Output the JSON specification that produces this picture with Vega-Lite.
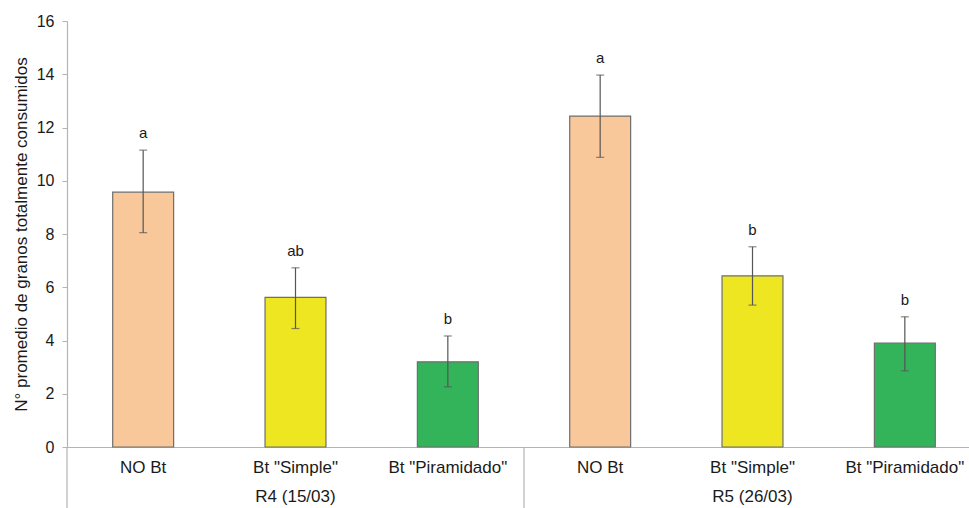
{
  "$schema": "https://vega.github.io/schema/vega-lite/v6.json",
  "autosize": "none",
  "padding": {"left": 67, "top": 21, "right": 0, "bottom": 61},
  "width": 902,
  "height": 426,
  "config": {
    "view": {"stroke": null},
    "font": "Liberation Sans"
  },
  "datasets": {
    "bars": [
      {"key": "R4|NO Bt", "group": "R4 (15/03)", "treatment": "NO Bt", "mean": 9.57, "lo": 8.05, "hi": 11.15, "letter": "a"},
      {"key": "R4|Bt \"Simple\"", "group": "R4 (15/03)", "treatment": "Bt \"Simple\"", "mean": 5.62, "lo": 4.45, "hi": 6.73, "letter": "ab"},
      {"key": "R4|Bt \"Piramidado\"", "group": "R4 (15/03)", "treatment": "Bt \"Piramidado\"", "mean": 3.2, "lo": 2.26, "hi": 4.17, "letter": "b"},
      {"key": "R5|NO Bt", "group": "R5 (26/03)", "treatment": "NO Bt", "mean": 12.43, "lo": 10.88, "hi": 13.97, "letter": "a"},
      {"key": "R5|Bt \"Simple\"", "group": "R5 (26/03)", "treatment": "Bt \"Simple\"", "mean": 6.43, "lo": 5.33, "hi": 7.52, "letter": "b"},
      {"key": "R5|Bt \"Piramidado\"", "group": "R5 (26/03)", "treatment": "Bt \"Piramidado\"", "mean": 3.9, "lo": 2.86, "hi": 4.89, "letter": "b"}
    ],
    "boundaries": [
      {"boundary": 0},
      {"boundary": 3},
      {"boundary": 6}
    ]
  },
  "layer": [
    {
      "data": {"name": "bars"},
      "layer": [
        {
          "mark": {"type": "bar", "stroke": "#6e6e6e", "strokeWidth": 1.2},
          "encoding": {
            "x": {
              "field": "key", "type": "nominal", "sort": null,
              "scale": {"range": [0, 914], "paddingInner": 0.6, "paddingOuter": 0.3},
              "axis": {
                "title": null, "labelAngle": 0, "ticks": false,
                "domainColor": "#b4b4b4", "domainWidth": 1.2,
                "labelExpr": "split(datum.value, '|')[1]",
                "labelFontSize": 17, "labelColor": "#1a1a1a", "labelPadding": 12
              }
            },
            "y": {
              "field": "mean", "type": "quantitative",
              "scale": {"domain": [0, 16]},
              "axis": {
                "values": [0, 2, 4, 6, 8, 10, 12, 14, 16],
                "grid": false,
                "title": "N° promedio de granos totalmente consumidos",
                "titleFontSize": 17, "titleFontWeight": "normal", "titleColor": "#1a1a1a",
                "titlePadding": 6,
                "labelFontSize": 16, "labelColor": "#1a1a1a", "labelPadding": 8,
                "tickSize": 5, "tickColor": "#b4b4b4", "domainColor": "#b4b4b4", "domainWidth": 1.2
              }
            },
            "color": {
              "field": "treatment", "type": "nominal", "legend": null,
              "scale": {
                "domain": ["NO Bt", "Bt \"Simple\"", "Bt \"Piramidado\""],
                "range": ["#f8c89b", "#ede620", "#33b45b"]
              }
            }
          }
        },
        {
          "mark": {"type": "rule", "color": "#555555", "strokeWidth": 1.2},
          "encoding": {
            "x": {"field": "key", "type": "nominal", "sort": null},
            "y": {"field": "lo", "type": "quantitative"},
            "y2": {"field": "hi"}
          }
        },
        {
          "mark": {"type": "tick", "color": "#555555", "size": 8, "thickness": 1.2},
          "encoding": {
            "x": {"field": "key", "type": "nominal", "sort": null},
            "y": {"field": "lo", "type": "quantitative"}
          }
        },
        {
          "mark": {"type": "tick", "color": "#555555", "size": 8, "thickness": 1.2},
          "encoding": {
            "x": {"field": "key", "type": "nominal", "sort": null},
            "y": {"field": "hi", "type": "quantitative"}
          }
        },
        {
          "mark": {"type": "text", "fontSize": 15, "color": "#1a1a1a", "baseline": "alphabetic", "dy": -12},
          "encoding": {
            "x": {"field": "key", "type": "nominal", "sort": null},
            "y": {"field": "hi", "type": "quantitative"},
            "text": {"field": "letter"}
          }
        },
        {
          "transform": [{"filter": "datum.treatment == 'Bt \"Simple\"'"}],
          "mark": {"type": "text", "fontSize": 17, "color": "#1a1a1a", "baseline": "middle"},
          "encoding": {
            "x": {"field": "key", "type": "nominal", "sort": null},
            "y": {"datum": -1.88},
            "text": {"field": "group"}
          }
        }
      ]
    },
    {
      "data": {"name": "boundaries"},
      "mark": {"type": "rule", "color": "#b4b4b4", "strokeWidth": 1.2},
      "encoding": {
        "x": {"field": "boundary", "type": "quantitative", "scale": {"domain": [0, 6], "range": [0, 914], "nice": false, "zero": false}, "axis": null},
        "y": {"datum": 0},
        "y2": {"datum": -2.5}
      }
    }
  ],
  "resolve": {"scale": {"x": "independent"}}
}
